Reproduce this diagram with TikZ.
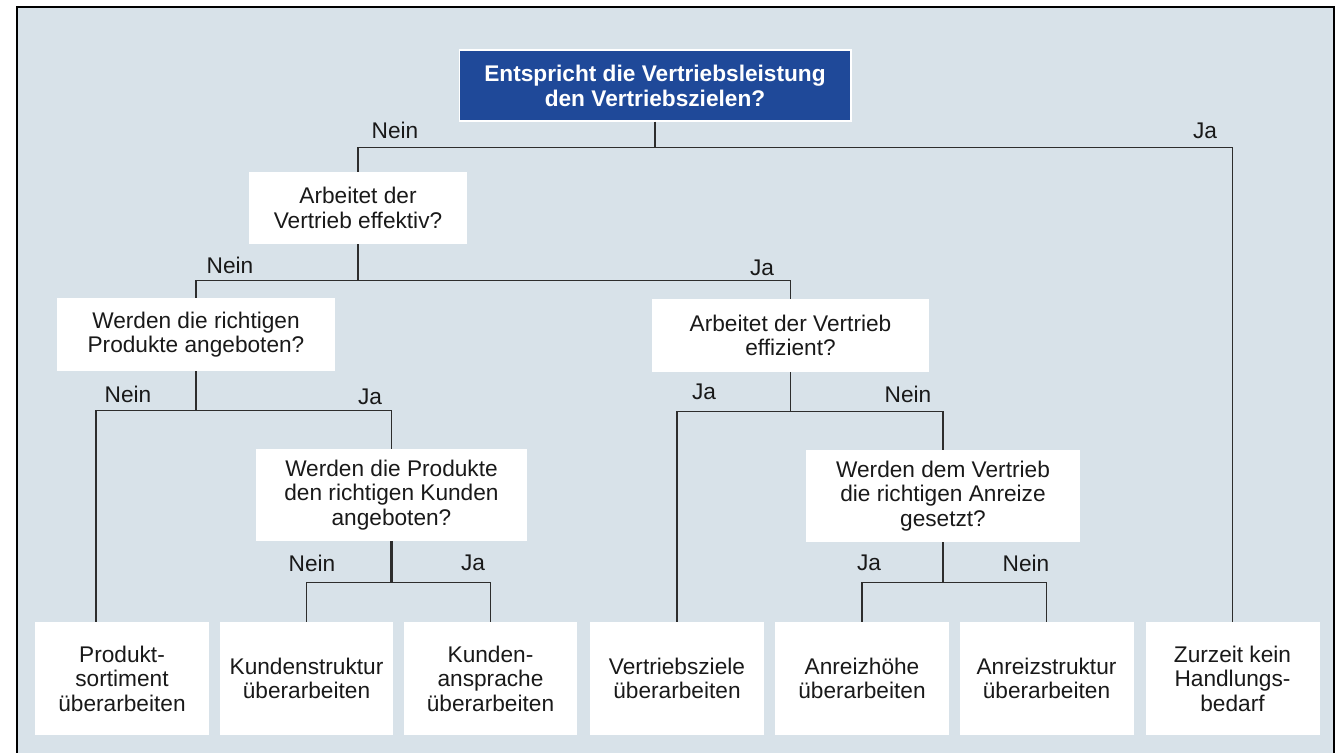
\documentclass[tikz,border=0pt]{standalone}
\usepackage{fontspec}
\setmainfont{Liberation Sans}
\usepackage{xcolor}
\usetikzlibrary{calc}
\definecolor{grund}{RGB}{216,226,233}
\definecolor{kopfblau}{RGB}{31,73,153}
\definecolor{linie}{RGB}{45,45,45}
\definecolor{schrift}{RGB}{25,25,25}

\begin{document}
\begin{tikzpicture}[x=0.02cm, y=-0.02cm,
		every node/.style={font=\fontsize{12.9pt}{13.9pt}\selectfont, text=schrift},
		kopf/.style={fill=kopfblau, draw=white, line width=0.6pt, align=center, inner sep=0pt,
			minimum width=7.84cm, minimum height=1.42cm, text=white, font=\fontsize{12.9pt}{14.2pt}\selectfont\bfseries},
		frage/.style={fill=white, align=center, inner sep=0pt},
		massnahme/.style={fill=white, align=center, inner sep=0pt, minimum width=3.48cm, minimum height=2.26cm},
		ast/.style={draw=linie, line width=0.7pt},
		antwort/.style={inner sep=0pt}]
	% frame
	\useasboundingbox (0,0) rectangle (1341,753);
	\filldraw[fill=grund, draw=black, line width=1.1pt] (17,7) rectangle (1334,780);
	% questions
	\node[kopf] (kopf) at (655,85.5) {Entspricht die Vertriebsleistung\\den Vertriebszielen?};
	\node[frage, minimum width=4.36cm, minimum height=1.44cm] (effektiv) at (358,208) {Arbeitet der\\Vertrieb effektiv?};
	\node[frage, minimum width=5.58cm, minimum height=1.46cm] (produkte) at (196,334.5) {Werden die richtigen\\Produkte angeboten?};
	\node[frage, minimum width=5.54cm, minimum height=1.46cm] (effizient) at (790.5,335.5) {Arbeitet der Vertrieb\\effizient?};
	\node[frage, minimum width=5.42cm, minimum height=1.84cm] (kunden) at (391.5,495) {Werden die Produkte\\den richtigen Kunden\\angeboten?};
	\node[frage, minimum width=5.48cm, minimum height=1.84cm] (anreize) at (943,496) {Werden dem Vertrieb\\die richtigen Anreize\\gesetzt?};
	% actions
	\node[massnahme] (sortiment) at (122,678.5) {Produkt-\\sortiment\\überarbeiten};
	\node[massnahme] (struktur) at (306.5,678.5) {Kundenstruktur\\überarbeiten};
	\node[massnahme] (ansprache) at (490.5,678.5) {Kunden-\\ansprache\\überarbeiten};
	\node[massnahme] (ziele) at (677,678.5) {Vertriebsziele\\überarbeiten};
	\node[massnahme] (hoehe) at (862,678.5) {Anreizhöhe\\überarbeiten};
	\node[massnahme] (astruktur) at (1046.5,678.5) {Anreizstruktur\\überarbeiten};
	\node[massnahme] (keinbedarf) at (1232.5,678.5) {Zurzeit kein\\Handlungs-\\bedarf};
	% branches
	\draw[ast] (kopf.south) -- ++(0,26) coordinate (k1);
	\draw[ast] (effektiv.north) |- (k1) -| (keinbedarf.north);
	\draw[ast] (effektiv.south) -- ++(0,36) coordinate (e1);
	\draw[ast] (produkte.north) |- (e1) -| (effizient.north);
	\draw[ast, line width=1.4pt] (produkte.south) -- ++(0,39) coordinate (p1);
	\draw[ast] ($(sortiment.north)+(-26,0)$) |- (p1) -| (kunden.north);
	\draw[ast] (effizient.south) -- ++(0,39) coordinate (f1);
	\draw[ast] (ziele.north) |- (f1) -| (anreize.north);
	\draw[ast, line width=1.4pt] (kunden.south) -- ++(0,41) coordinate (u1);
	\draw[ast] (struktur.north) |- (u1) -| (ansprache.north);
	\draw[ast] (anreize.south) -- ++(0,40) coordinate (a1);
	\draw[ast] (hoehe.north) |- (a1) -| (astruktur.north);
	% answers
	\node[antwort] (n1) at (395,130) {Nein};
	\node[antwort] (j1) at (1205,131) {Ja};
	\node[antwort] (n2) at (230,265) {Nein};
	\node[antwort] (j2) at (762,268) {Ja};
	\node[antwort] (n3) at (128,394) {Nein};
	\node[antwort] (j3) at (370,397) {Ja};
	\node[antwort] (j4) at (704,392) {Ja};
	\node[antwort] (n4) at (908,394) {Nein};
	\node[antwort] (n5) at (312,563) {Nein};
	\node[antwort] (j5) at (473,563) {Ja};
	\node[antwort] (j6) at (869,563) {Ja};
	\node[antwort] (n6) at (1026,563) {Nein};
\end{tikzpicture}
\end{document}
